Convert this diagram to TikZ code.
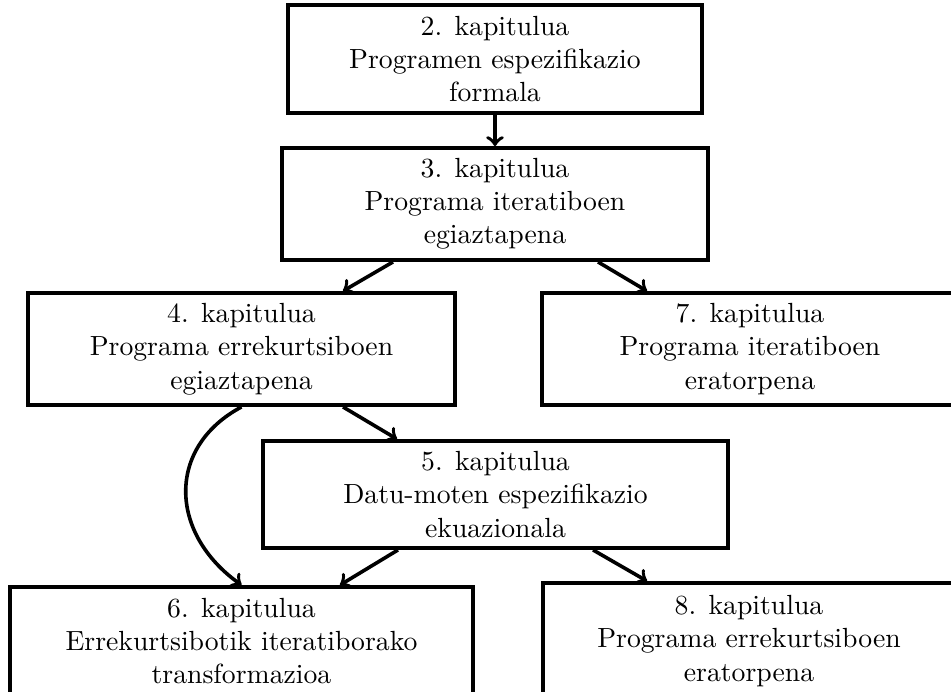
\documentclass[tikz,border=0pt]{standalone}
\usetikzlibrary{calc}
\tikzset{
  chap/.style={draw, rectangle, line width=1.4pt, align=center, inner sep=0pt, minimum height=#1},
  chap/.default={108*0.361pt},
  conn/.style={->, line width=1.3pt}
}
\begin{document}
\begin{tikzpicture}[x=0.361pt, y=-0.361pt]
\useasboundingbox (0,0) rectangle (951,692);
\clip (0,0) rectangle (951,692);
\node[chap, minimum width=414*0.361pt] (b2) at (495,59) {2. kapitulua\\Programen espezifikazio\\formala};
\node[chap={112*0.361pt}, minimum width=426*0.361pt] (b3) at (495,204) {3. kapitulua\\Programa iteratiboen\\egiaztapena};
\node[chap={112*0.361pt}, minimum width=427*0.361pt] (b4) at (241.5,349) {4. kapitulua\\Programa errekurtsiboen\\egiaztapena};
\node[chap={112*0.361pt}, minimum width=416*0.361pt] (b7) at (750,349) {7. kapitulua\\Programa iteratiboen\\eratorpena};
\node[chap={107*0.361pt}, minimum width=465*0.361pt] (b5) at (495.5,494.5) {5. kapitulua\\Datu-moten espezifikazio\\ekuazionala};
\node[chap, minimum width=463*0.361pt] (b6) at (241.5,641) {6. kapitulua\\Errekurtsibotik iteratiborako\\transformazioa};
\node[chap={116*0.361pt}, minimum width=412*0.361pt] (b8) at (749,641) {8. kapitulua\\Programa errekurtsiboen\\eratorpena};

\draw[conn] (b2.south) -- (b3.north);
\draw[conn] ($(b3.south)+(-102,0)$) -- ($(b4.north)+(101.5,0)$);
\draw[conn] ($(b3.south)+(103,0)$) -- ($(b7.north)+(-103,0)$);
\draw[conn] ($(b4.south)+(101.5,0)$) -- ($(b5.north)+(-98.5,0)$);
\draw[conn] (b4.south) .. controls +(-75,40) and +(-73,-52) .. (b6.north);
\draw[conn] ($(b5.south)+(-97.5,0)$) -- ($(b6.north)+(98.5,0)$);
\draw[conn] ($(b5.south)+(97.5,0)$) -- ($(b8.north)+(-102,0)$);
\end{tikzpicture}
\end{document}
